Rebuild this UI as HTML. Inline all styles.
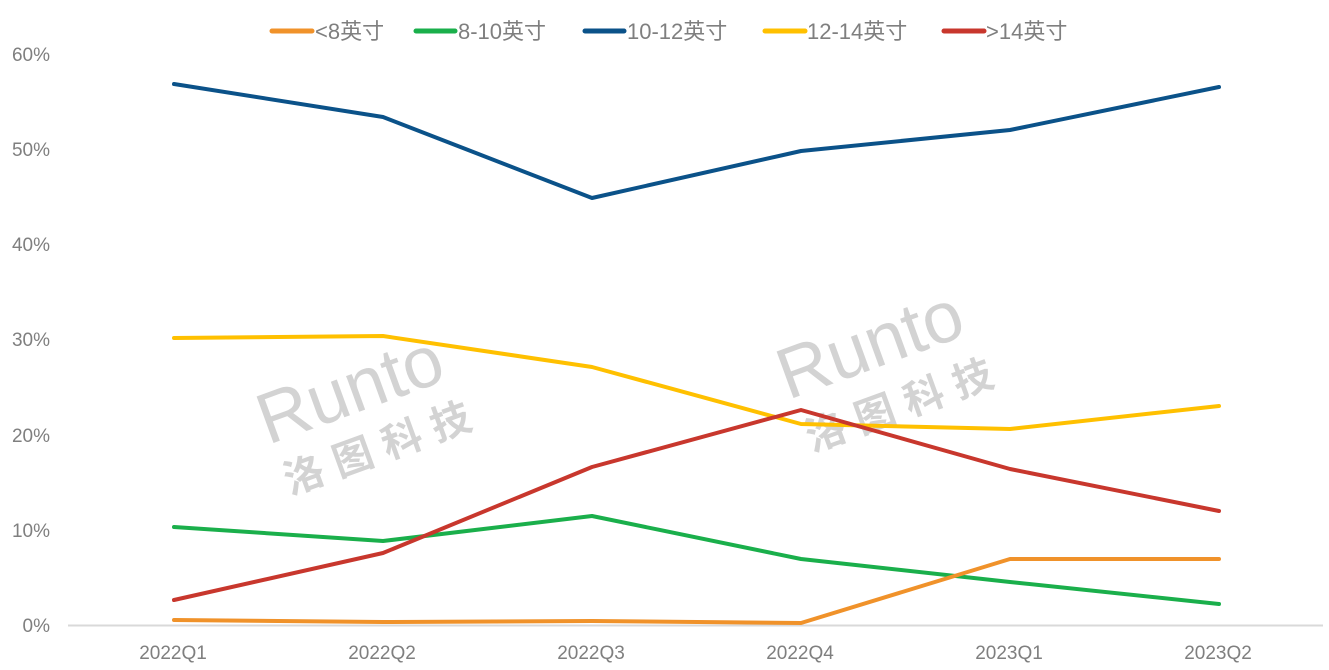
<!DOCTYPE html>
<html><head><meta charset="utf-8"><style>
body{margin:0;background:#fff;}
svg text{font-family:"Liberation Sans","Noto Sans CJK SC",sans-serif;}
</style></head><body>
<svg width="1329" height="665" viewBox="0 0 1329 665" xmlns="http://www.w3.org/2000/svg">
<rect width="1329" height="665" fill="#fff"/>
<g fill="#c8c8c8" opacity="0.8">
<text x="0" y="0" font-size="72" transform="translate(268,445) rotate(-20)">Runto</text>
<text x="0" y="0" font-size="40" font-weight="bold" transform="translate(290,495) rotate(-20)" letter-spacing="12">洛图科技</text>
<text x="0" y="0" font-size="72" transform="translate(788,400) rotate(-20)">Runto</text>
<text x="0" y="0" font-size="40" font-weight="bold" transform="translate(812,452) rotate(-20)" letter-spacing="12">洛图科技</text>
</g>
<line x1="68" y1="625.5" x2="1323" y2="625.5" stroke="#d9d9d9" stroke-width="2"/>
<g fill="#7f7f7f" font-size="19" text-anchor="end">
<text x="50" y="632">0%</text><text x="50" y="537">10%</text><text x="50" y="442">20%</text>
<text x="50" y="346">30%</text><text x="50" y="251">40%</text><text x="50" y="156">50%</text><text x="50" y="61">60%</text>
</g>
<g fill="#7f7f7f" font-size="19" text-anchor="middle">
<text x="173" y="659">2022Q1</text><text x="382" y="659">2022Q2</text><text x="591" y="659">2022Q3</text>
<text x="800" y="659">2022Q4</text><text x="1009" y="659">2023Q1</text><text x="1218" y="659">2023Q2</text>
</g>
<g fill="none" stroke-width="4" stroke-linejoin="round" stroke-linecap="round">
<polyline stroke="#0B5289" points="174,84 383,117 592,198 801,151 1010,130 1219,87"/>
<polyline stroke="#FFC000" points="174,338 383,336 592,367 801,424 1010,429 1219,406"/>
<polyline stroke="#1AAF4B" points="174,527 383,541 592,516 801,559 1010,582 1219,604"/>
<polyline stroke="#C8372D" points="174,600 383,553 592,467 801,410 1010,469 1219,511"/>
<polyline stroke="#F0922A" points="174,620 383,622 592,621 801,623 1010,559 1219,559"/>
</g>
<g stroke-width="5" stroke-linecap="round">
<line x1="272" y1="31" x2="312" y2="31" stroke="#F0922A"/>
<line x1="416" y1="31" x2="455" y2="31" stroke="#1AAF4B"/>
<line x1="585" y1="31" x2="624" y2="31" stroke="#0B5289"/>
<line x1="765" y1="31" x2="805" y2="31" stroke="#FFC000"/>
<line x1="944" y1="31" x2="984" y2="31" stroke="#C8372D"/>
</g>
<g fill="#7f7f7f" font-size="22">
<text x="315" y="39">&lt;8英寸</text>
<text x="458" y="39">8-10英寸</text>
<text x="627" y="39">10-12英寸</text>
<text x="807" y="39">12-14英寸</text>
<text x="986" y="39">&gt;14英寸</text>
</g>
</svg>
</body></html>
